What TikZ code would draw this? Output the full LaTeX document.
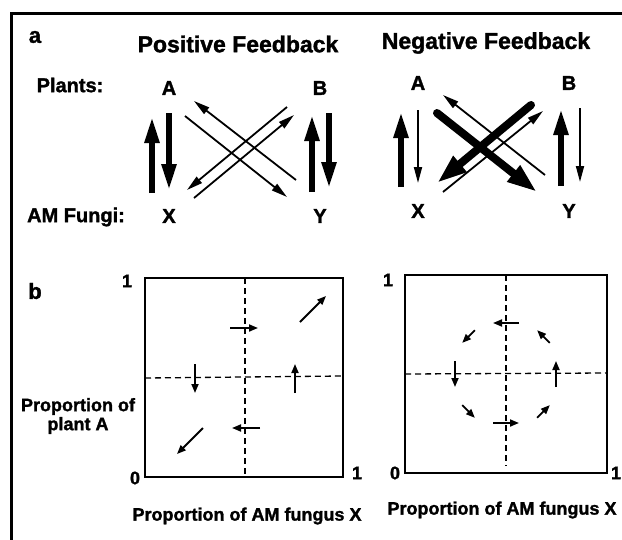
\documentclass[tikz,border=0pt]{standalone}
\usepackage{fontspec}
\setmainfont{Liberation Sans}[BoldFeatures={FakeBold=1.5}]
\usetikzlibrary{arrows.meta}
\usetikzlibrary{positioning}

\tikzset{
  heading/.style={font=\fontsize{23}{27}\selectfont\bfseries},
  species/.style={font=\fontsize{20}{24}\selectfont\bfseries},
  panel/.style={font=\fontsize{22}{26}\selectfont\bfseries},
  axislabel/.style={font=\fontsize{18}{19}\selectfont\bfseries,align=center},
  ticklabel/.style={font=\fontsize{18}{20}\selectfont\bfseries},
  bigarrow/.style={line width=5.5pt,-{Triangle[length=26pt,width=14pt]}},
  thinarrow/.style={line width=1.8pt,-{Triangle[length=16pt,width=8pt]}},
  fatarrow/.style={line width=8pt,line cap=round,-{Triangle[length=30pt,width=19pt]}},
  fieldarrow/.style={line width=1.8pt,-{Triangle[length=9pt,width=7pt]}},
  plotbox/.style={line width=1.6pt},
  divider/.style={line width=1.3pt,dash pattern=on 6pt off 4pt}
}

\begin{document}
\begin{tikzpicture}[x=1pt,y=-1pt,node distance=2cm,on grid]
  \useasboundingbox (0,0) rectangle (622,539);
  % frame
  \draw[line width=3pt] (11,560) -- (11,13) -- (640,13);

  % panel a
  \node[panel] (lbl_a) at (35,37) {a};
  \node[heading] (pos_title) at (238,44) {Positive Feedback};
  \node[heading] (neg_title) at (486,43) {Negative Feedback};
  \node[species] (plants) at (70,85) {Plants:};
  \node[species] (fungi) at (76,217) {AM Fungi:};

  \node[species] (pos_A) at (169,88) {A};
  \node[species] (pos_B) [right=151pt of pos_A] {B};
  \node[species] (pos_X) [below=128pt of pos_A] {X};
  \node[species] (pos_Y) [right=151pt of pos_X] {Y};

  \node[species] (neg_A) at (418,83) {A};
  \node[species] (neg_B) [right=151pt of neg_A] {B};
  \node[species] (neg_X) [below=128pt of neg_A] {X};
  \node[species] (neg_Y) [right=151pt of neg_X] {Y};

  % positive feedback
  \path
    ([shift={(-17,-23)}]pos_X.center) edge[bigarrow] ([shift={(-17,29)}]pos_A.center)
    ([shift={(0,25)}]pos_A.center) edge[bigarrow] ([shift={(0,-26)}]pos_X.center)
    ([shift={(-8,-24)}]pos_Y.center) edge[bigarrow] ([shift={(-8,27)}]pos_B.center)
    ([shift={(9,25)}]pos_B.center) edge[bigarrow] ([shift={(9,-28)}]pos_Y.center)
    ([shift={(-24,-36)}]pos_Y.center) edge[thinarrow] ([shift={(25,13)}]pos_A.center)
    ([shift={(16,28)}]pos_A.center) edge[thinarrow] ([shift={(-33,-19)}]pos_Y.center)
    ([shift={(-33,19)}]pos_B.center) edge[thinarrow] ([shift={(18,-26)}]pos_X.center)
    ([shift={(25,-18)}]pos_X.center) edge[thinarrow] ([shift={(-26,27)}]pos_B.center);

  % negative feedback
  \path
    ([shift={(-17,-24)}]neg_X.center) edge[bigarrow] ([shift={(-17,29)}]neg_A.center)
    ([shift={(0,27)}]neg_A.center) edge[thinarrow] ([shift={(0,-28)}]neg_X.center)
    ([shift={(-8,-25)}]neg_Y.center) edge[bigarrow] ([shift={(-8,26)}]neg_B.center)
    ([shift={(11,25)}]neg_B.center) edge[thinarrow] ([shift={(11,-29)}]neg_Y.center)
    ([shift={(19,30)}]neg_A.center) edge[fatarrow] ([shift={(-32,-19)}]neg_Y.center)
    ([shift={(-38,22)}]neg_B.center) edge[fatarrow] ([shift={(19,-28)}]neg_X.center)
    ([shift={(-24,-36)}]neg_Y.center) edge[thinarrow] ([shift={(25,12)}]neg_A.center)
    ([shift={(25,-19)}]neg_X.center) edge[thinarrow] ([shift={(-26,28)}]neg_B.center);

  % panel b
  \node[panel] (lbl_b) at (35,291) {b};
  \node[axislabel] (ylabel) at (78,416) {Proportion of\\plant A};

  % left plot
  \draw[plotbox] (145,278) rectangle (343,477);
  \draw[divider] (245,278) -- (245,474);
  \draw[divider] (145,378) -- (343,376);
  \node[ticklabel] (pos_one_y) at (127,281) {1};
  \node[ticklabel] (pos_zero) at (135,478) {0};
  \node[ticklabel] (pos_one_x) at (357,473) {1};
  \node[axislabel] (pos_xlabel) at (247,516) {Proportion of AM fungus X};
  \draw[fieldarrow] (230,328) -- (258,328);
  \draw[fieldarrow] (260,428) -- (232,428);
  \draw[fieldarrow] (195,364) -- (195,393);
  \draw[fieldarrow] (295,393) -- (295,364);
  \draw[fieldarrow] (203,428) -- (177,454);
  \draw[fieldarrow] (300,322) -- (326,296);

  % right plot
  \draw[plotbox] (405,275) rectangle (607,473);
  \draw[divider] (506,275) -- (506,466);
  \draw[divider] (405,374) -- (607,373);
  \node[ticklabel] (neg_one_y) at (388,280) {1};
  \node[ticklabel] (neg_zero) at (395,473) {0};
  \node[ticklabel] (neg_one_x) at (616,473) {1};
  \node[axislabel] (neg_xlabel) at (502,510) {Proportion of AM fungus X};
  \begin{scope}[shift={(506,374)},y=1pt]
    \foreach \ang/\rad/\len in {0/50/13,45/53/9,90/51/13,135/53/9,180/51/13,225/53/9,270/49/13,315/53/9}
      \draw[fieldarrow] (\ang:\rad) ++({\ang-90}:\len) -- ++({\ang+90}:{2*\len});
  \end{scope}
\end{tikzpicture}
\end{document}
